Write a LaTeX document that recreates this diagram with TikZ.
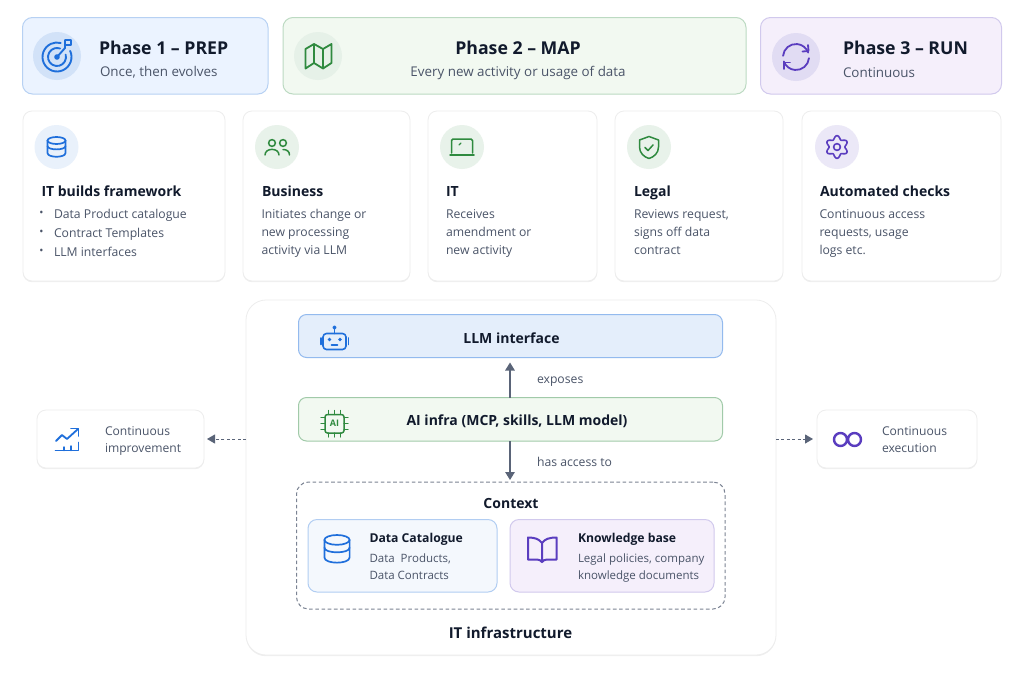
\documentclass[tikz,border=0pt]{standalone}
\usepackage{fontspec}
\setmainfont{Open Sans}
\usetikzlibrary{shadows,arrows.meta}
\definecolor{ink}{HTML}{111A2C}
\definecolor{body}{HTML}{4A5468}
\definecolor{blueI}{HTML}{1F6FDB}
\definecolor{greenI}{HTML}{2F8A3F}
\definecolor{purpI}{HTML}{5A3DBF}
\definecolor{arrowc}{HTML}{5A6478}
\newcommand\mybox[6]{\node[#1,minimum width={(#5-#3)*1pt},minimum height={(#6-#4)*1pt}] (#2) at ({(#3+#5)/2},{(#4+#6)/2}) {};}
\newcommand\fs[2]{\fontsize{#1}{#2}\selectfont}
\newcommand\dbicon[3]{\begin{scope}[shift={(#1,#2)},scale=#3,icon,blueI]
 \draw (0,-6.5) ellipse[x radius=9,y radius=3.5];
 \draw (-9,-6.5) -- (-9,6) .. controls (-9,11) and (9,11) .. (9,6) -- (9,-6.5);
 \draw (-9,-1) .. controls (-9,3.5) and (9,3.5) .. (9,-1);
\end{scope}}
\tikzset{
 every node/.style={inner sep=0pt,outer sep=0pt},
 card/.style={draw=black!7,line width=.8pt,fill=white,rounded corners=9pt,drop shadow={opacity=.12,shadow xshift=0pt,shadow yshift=-1.2pt}},
 icon/.style={line width=1.7pt,line cap=round,line join=round},
 disc/.style={circle,minimum size=#1*1pt},
 title/.style={anchor=base west,font=\bfseries\fs{14}{17},text=ink},
 bodyt/.style={anchor=west,align=left,font=\fs{12.2}{18},text=body,execute at begin node=\strut,execute at end node=\strut},
 conn/.style={arrowc,line width=1.3pt,-{Triangle[length=8pt,width=9.5pt]}},
 dconn/.style={arrowc,line width=1pt,dash pattern=on 3pt off 2.4pt,-{Triangle[length=8pt,width=9pt]}}
}
\begin{document}
\begin{tikzpicture}[x=1pt,y=-1pt]
\useasboundingbox (0,0) rectangle (1024,683);
\fill[white] (0,0) rectangle (1024,683);
% phase boxes
\definecolor{fb}{HTML}{EBF3FF}\definecolor{fg}{HTML}{F2F9F1}\definecolor{fp}{HTML}{F5EFFB}
\mybox{draw=blueI!32!white,fill=fb,rounded corners=10pt,line width=1pt}{ph1}{22.5}{17.5}{268}{94}
\mybox{draw=greenI!32!white,fill=fg,rounded corners=10pt,line width=1pt}{ph2}{283}{17.5}{746}{94}
\mybox{draw=purpI!28!white,fill=fp,rounded corners=10pt,line width=1pt}{ph3}{760.5}{17.5}{1001.5}{94}
\node[disc=48,fill=blueI!20!white] (c1) at (57,56) {};
\node[disc=48,fill=greenI!12!white] (c2) at (318,56) {};
\node[disc=48,fill=purpI!18!white] (c3) at (796,57) {};
\node[anchor=west,font=\bfseries\fs{17.7}{20},text=ink] (t1) at (99,48) {Phase 1 – PREP};
\node[anchor=west,font=\fs{13.4}{16},text=body] (s1) at (100,72.5) {Once, then evolves};
\node[font=\bfseries\fs{17.7}{20},text=ink] (t2) at (518,48) {Phase 2 – MAP};
\node[font=\fs{13.4}{16},text=body] (s2) at (518,73) {Every new activity or usage of data};
\node[anchor=west,font=\bfseries\fs{17.7}{20},text=ink] (t3) at (843,48) {Phase 3 – RUN};
\node[anchor=west,font=\fs{13.4}{16},text=body] (s3) at (843,72.5) {Continuous};
% phase icons
\begin{scope}[icon,blueI,line width=1.9pt]
 \draw (57,57)++(-25:14.5) arc[start angle=-25,end angle=285,radius=14.5];
 \draw (57,57)++(-15:9) arc[start angle=-15,end angle=290,radius=9];
 \fill (57,57) circle[radius=2.8];
 \draw (57,57) -- (65,48) -- (65,40) -- (71,40) -- (71,45) -- (65,45);
\end{scope}
\draw[icon,greenI,line width=1.8pt] (305.5,49) -- (314,44) -- (323,49) -- (331.5,44) -- (331.5,63) -- (323,68.5) -- (314,63) -- (305.5,68.5) -- cycle (314,44) -- (314,63) (323,49) -- (323,68.5);
\begin{scope}[icon,purpI,line width=1.8pt]
 \draw (796,57)++(185:13) arc[start angle=185,end angle=340,radius=13];
 \draw (796,57)++(5:13) arc[start angle=5,end angle=160,radius=13];
 \draw (808,45) -- (808.5,51) -- (802.5,51.5);
 \draw (784,69) -- (784,62.5) -- (790,62.5);
\end{scope}
% cards
\mybox{card}{k1}{23}{111}{225}{281}
\mybox{card}{k2}{243}{111}{410}{281}
\mybox{card}{k3}{428}{111}{597}{281}
\mybox{card}{k4}{615}{111}{783}{281}
\mybox{card}{k5}{802}{111}{1001}{281}
\node[disc=44,fill=blueI!10!white] (d1) at (56.5,147) {};
\node[disc=44,fill=greenI!11!white] (d2) at (277,147) {};
\node[disc=44,fill=greenI!11!white] (d3) at (462,147) {};
\node[disc=44,fill=greenI!11!white] (d4) at (649,147) {};
\node[disc=44,fill=purpI!12!white] (d5) at (837,147) {};
\dbicon{56.5}{147}{1}
\begin{scope}[icon,greenI,line width=1.5pt]
 \draw (272,143) circle[radius=3.4] (283,143) circle[radius=3.4];
 \draw (265,155) .. controls (265,147.5) and (279,147.5) .. (279,155);
 \draw (283,149.5) .. controls (287,149.5) and (289.5,151.5) .. (289.5,155);
 \draw[rounded corners=1.5pt] (451.5,153) -- (451.5,139) -- (472.5,139) -- (472.5,153);
 \draw (450,155) -- (474,155);
 \draw[line width=1.1pt] (459,145) -- (461,143);
 \draw (649,136.5) -- (658.5,140) -- (658.5,147) .. controls (658.5,153) and (654,157) .. (649,158.5) .. controls (644,157) and (639.5,153) .. (639.5,147) -- (639.5,140) -- cycle;
 \draw (645,147.5) -- (648,150.5) -- (653,145);
\end{scope}
\begin{scope}[icon,purpI,line width=1.6pt]
 \draw plot[domain=0:360,samples=145] ({837+(9.6-1.7*cos(6*\x))*cos(\x)},{147+(9.6-1.7*cos(6*\x))*sin(\x)}) -- cycle;
 \draw (837,147) circle[radius=3.4];
\end{scope}
\node[title] (h1) at (41.5,196.5) {IT builds framework};
\node[title] (h2) at (262,196.5) {Business};
\node[title] (h3) at (446,196.5) {IT};
\node[title] (h4) at (634,196.5) {Legal};
\node[title] (h5) at (820,196.5) {Automated checks};
\node[bodyt,font=\fs{12.2}{19}] (b1) at (54,235.5) {Data Product catalogue\\Contract Templates\\LLM interfaces};
\node[anchor=center,text=body,font=\fs{11}{11}] (p1) at (41.5,214) {•};
\node[anchor=center,text=body,font=\fs{11}{11}] (p2) at (41.5,233.3) {•};
\node[anchor=center,text=body,font=\fs{11}{11}] (p3) at (41.5,252.3) {•};
\node[bodyt] (b2) at (261.5,234.5) {Initiates change or\\new processing\\activity via LLM};
\node[bodyt] (b3) at (446,234.5) {Receives\\amendment or\\new activity};
\node[bodyt] (b4) at (634,234.5) {Reviews request,\\signs off data\\contract};
\node[bodyt] (b5) at (819.5,234.5) {Continuous access\\requests, usage\\logs etc.};
% IT infra
\mybox{card,rounded corners=20pt}{big}{246}{300}{776}{655}
\mybox{draw=blueI!48!white,fill=blueI!12!white,rounded corners=8pt,line width=1pt}{llm}{298.5}{314.5}{722.5}{357.5}
\mybox{draw=greenI!45!white,fill=fg,rounded corners=8pt,line width=1pt}{ai}{298.5}{397.5}{722.5}{441}
\node[font=\bfseries\fs{14}{17},text=ink] (llmT) at (511.5,338) {LLM interface};
\node[font=\bfseries\fs{14}{17},text=ink] (aiT) at (517,421) {AI infra (MCP, skills, LLM model)};
\begin{scope}[icon,blueI,line width=1.6pt]
 \draw[rounded corners=3.5pt] (323,333.5) rectangle (346,349.5);
 \draw (321,338) -- (321,344.5) (348.5,338) -- (348.5,344.5);
 \draw (334.5,333.5) -- (334.5,329);
 \draw (334.5,327.5) circle[radius=1.3];
 \fill (329.5,339.5) circle[radius=1.8] (340,339.5) circle[radius=1.8];
 \draw (331.5,345) -- (337.5,345);
\end{scope}
\begin{scope}[icon,greenI,line width=1.5pt]
 \draw[rounded corners=2.5pt] (325,414.5) rectangle (344,433);
 \foreach \t in {-6,0,6} {
  \draw[line width=1.2pt] (334.5+\t,410.5) -- (334.5+\t,414.5) (334.5+\t,433) -- (334.5+\t,437);
  \draw[line width=1.2pt] (321,423.7+\t) -- (325,423.7+\t) (344,423.7+\t) -- (348,423.7+\t);
 }
\end{scope}
\node[font=\bfseries\fs{9}{10},text=greenI] (chipT) at (334.5,423.7) {AI};
\node[anchor=base west,font=\fs{12.2}{14},text=body] (expT) at (537,383) {exposes};
\node[anchor=base west,font=\fs{12.2}{14},text=body] (accT) at (537,466) {has access to};
\mybox{draw=arrowc!80!white,dash pattern=on 3.6pt off 2.6pt,rounded corners=12pt,line width=1pt}{ctx}{296.5}{482}{725}{609}
\node[font=\bfseries\fs{14}{17},text=ink] (ctxT) at (511,503) {Context};
\mybox{draw=blueI!35!white,fill=blueI!5!white,rounded corners=9pt,line width=1pt}{dc}{308}{519.5}{497}{592}
\mybox{draw=purpI!28!white,fill=fp,rounded corners=9pt,line width=1pt}{kb}{510}{519.5}{714}{592}
\dbicon{337}{549}{1.4}
\draw[icon,purpI,line width=2pt] (542,543) .. controls (539,539) and (535,537.5) .. (528,537.5) -- (528,559.5) -- (537,559.5) .. controls (539,559.5) and (541,560.5) .. (542,562) .. controls (543,560.5) and (545,559.5) .. (547,559.5) -- (556.5,559.5) -- (556.5,537.5) .. controls (549,537.5) and (545,539) .. (542,543) -- (542,562);
\node[anchor=base west,font=\bfseries\fs{12.2}{14},text=ink] (dcT) at (369.5,542.5) {Data Catalogue};
\node[bodyt,font=\fs{11.5}{17}] (dcB) at (369.5,569.5) {Data\ \ Products,\\Data Contracts};
\node[anchor=base west,font=\bfseries\fs{12.2}{14},text=ink] (kbT) at (578,542.5) {Knowledge base};
\node[bodyt,font=\fs{11.5}{17}] (kbB) at (578,569.5) {Legal policies, company\\knowledge documents};
\node[font=\bfseries\fs{15}{18},text=ink] (itT) at (510.5,633) {IT infrastructure};
% side boxes
\mybox{card}{imp}{37}{410}{204}{468}
\mybox{card}{exe}{817}{410}{977}{468}
\begin{scope}[icon,blueI,line width=1.8pt]
 \draw (56,441) -- (62,435) -- (67,439) -- (78,429);
 \draw (71,428.5) -- (78.5,428.5) -- (78.5,436);
 \draw (55.5,450.5) -- (78.5,450.5) -- (78.5,442.5);
 \draw[line width=1.4pt] (71,446) -- (71,450.5) (64,447) -- (64,450.5);
\end{scope}
\draw[purpI,line width=2.4pt] (840.5,439.5) circle[radius=6.5] (854.5,439.5) circle[radius=6.5];
\node[bodyt,font=\fs{12.1}{17}] (impT) at (105,442.5) {Continuous\\improvement};
\node[bodyt,font=\fs{12.1}{17}] (exeT) at (882,442.5) {Continuous\\execution};
% connectors
\coordinate (arrUp) at (510,397.5);
\draw[conn,shorten >=5pt] (ai.north -| arrUp) -- (llm.south -| arrUp);
\draw[conn,shorten >=2pt] (ai.south -| arrUp) -- (ctx.north -| arrUp);
\draw[dconn,shorten >=3pt] (big.west |- imp.east) -- (imp.east);
\draw[dconn,shorten >=4pt] (big.east |- exe.west) -- (exe.west);
\end{tikzpicture}
\end{document}
